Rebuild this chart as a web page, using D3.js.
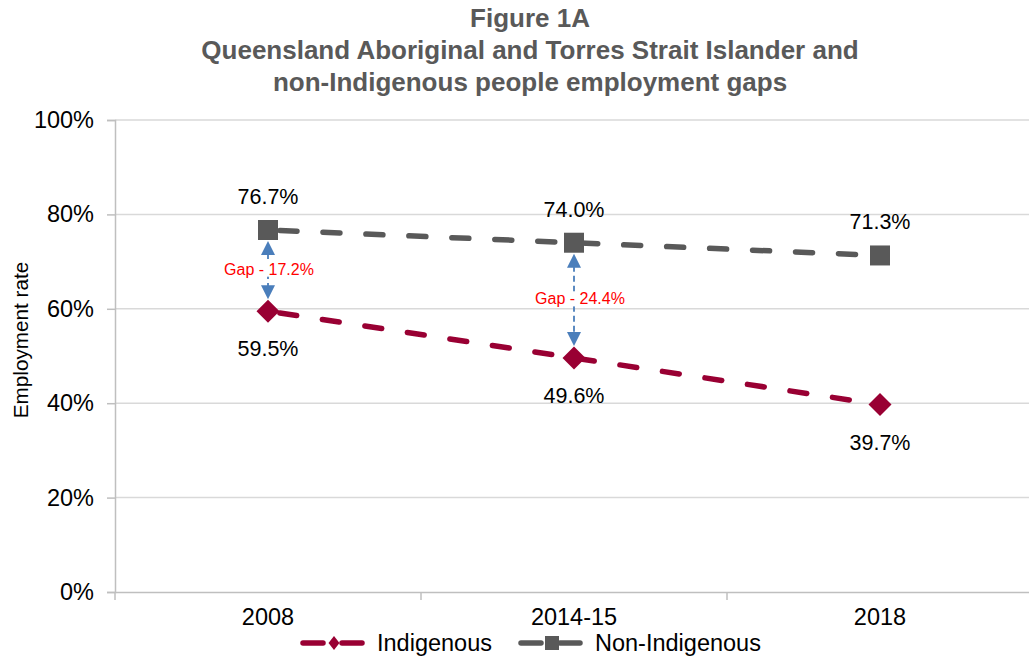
<!DOCTYPE html>
<html>
<head>
<meta charset="utf-8">
<script src="https://cdn.jsdelivr.net/npm/d3@7"></script>
<style>
  body { margin: 0; background: #fff; }
  text { font-family: "Liberation Sans", Arial, sans-serif; }
</style>
</head>
<body>
<div id="chart"></div>
<script>
var categories = ["2008", "2014-15", "2018"];
var indigenous = [0.595, 0.496, 0.397];
var nonIndigenous = [0.767, 0.740, 0.713];
var yTicks = [0, 0.2, 0.4, 0.6, 0.8, 1.0];
var gapCategories = ["2008", "2014-15"];
var gapLabels = ["Gap - 17.2%", "Gap - 24.4%"];
var titleLines = ["Figure 1A", "Queensland Aboriginal and Torres Strait Islander and", "non-Indigenous people employment gaps"];

const width = 1029;
const height = 658;
const plotLeft = 115, plotRight = 1033, plotTop = 120, plotBottom = 592;
const redCol = "#990033";
const greyCol = "#595959";
const blueCol = "#4a7ebb";

const xScale = d3.scaleBand()
    .domain(categories)
    .range([plotLeft, plotRight]);

const yScale = d3.scaleLinear()
    .domain([0, 1])
    .range([plotBottom, plotTop]);

const cx = (c) => xScale(c) + xScale.bandwidth() / 2;

let svg = d3.select('#chart')
    .append('svg')
    .attr('width', width)
    .attr('height', height);

// title
svg.append('g').selectAll('text')
    .data(titleLines)
    .enter()
    .append('text')
    .attr('x', 530)
    .attr('y', (d, i) => 27 + i * 32)
    .attr('text-anchor', 'middle')
    .style('font-size', '26px')
    .style('font-weight', 'bold')
    .style('fill', greyCol)
    .text(d => d);

// gridlines
svg.append('g').selectAll('line')
    .data(yTicks.slice(1))
    .enter()
    .append('line')
    .attr('x1', plotLeft).attr('x2', width)
    .attr('y1', d => yScale(d)).attr('y2', d => yScale(d))
    .attr('stroke', '#d9d9d9')
    .attr('stroke-width', 1.5);

// y axis
let yAxis = svg.append('g')
    .attr('transform', `translate(${plotLeft},0)`)
    .call(d3.axisLeft(yScale).tickValues(yTicks).tickFormat(d3.format('.0%')).tickSize(8).tickPadding(13));
yAxis.select('.domain').attr('stroke', '#bfbfbf').attr('stroke-width', 1.5);
yAxis.selectAll('.tick line').attr('stroke', '#bfbfbf').attr('stroke-width', 1.5);
yAxis.selectAll('.tick text')
    .style('font-family', '"Liberation Sans", Arial, sans-serif')
    .style('font-size', '23.5px').style('fill', '#000');

// x axis
let xAxis = svg.append('g')
    .attr('transform', `translate(0,${plotBottom})`)
    .call(d3.axisBottom(xScale).tickSize(0).tickPadding(16));
xAxis.select('.domain').attr('stroke', '#bfbfbf').attr('stroke-width', 1.5);
xAxis.selectAll('.tick text')
    .style('font-family', '"Liberation Sans", Arial, sans-serif')
    .style('font-size', '23.5px').style('fill', '#000');
// x tick marks at category boundaries
xAxis.append('g').selectAll('line')
    .data(categories)
    .enter()
    .append('line')
    .attr('x1', d => xScale(d)).attr('x2', d => xScale(d))
    .attr('y1', 0).attr('y2', 8)
    .attr('stroke', '#bfbfbf').attr('stroke-width', 1.5);

// y label
svg.append('text')
    .attr('transform', 'translate(28,340) rotate(-90)')
    .attr('text-anchor', 'middle')
    .style('font-size', '20.7px')
    .style('fill', '#000')
    .text('Employment rate');

// series lines
const series = [
    { name: 'Indigenous', values: indigenous, color: redCol, marker: 'diamond', labelDy: 45 },
    { name: 'Non-Indigenous', values: nonIndigenous, color: greyCol, marker: 'square', labelDy: -26 }
];

const line = d3.line()
    .x((d, i) => cx(categories[i]))
    .y(d => yScale(d));

series.forEach(function(s) {
    svg.append('path')
        .datum(s.values)
        .attr('fill', 'none')
        .attr('stroke', s.color)
        .attr('stroke-width', 5.5)
        .attr('stroke-linecap', 'round')
        .attr('stroke-dasharray', '17,26')
        .attr('stroke-dashoffset', -12)
        .attr('d', line);
});

// gap arrows
const gapG = svg.append('g');
gapCategories.forEach(function(c, k) {
    const i = categories.indexOf(c);
    const x = cx(c);
    const y1 = yScale(nonIndigenous[i]) + 11;
    const y2 = yScale(indigenous[i]) - 12;
    gapG.append('line')
        .attr('x1', x).attr('x2', x)
        .attr('y1', y1 + 12).attr('y2', y2 - 12)
        .attr('stroke', blueCol)
        .attr('stroke-width', 1.8)
        .attr('stroke-dasharray', '6,4');
    gapG.append('path')
        .attr('d', `M${x},${y1} L${x - 7},${y1 + 14} L${x + 7},${y1 + 14} Z`)
        .attr('fill', blueCol);
    gapG.append('path')
        .attr('d', `M${x},${y2} L${x - 7},${y2 - 14} L${x + 7},${y2 - 14} Z`)
        .attr('fill', blueCol);
    const ty = (y1 + y2) / 2 - 1;
    const tx = x + (k === 0 ? 1 : 6);
    const bg = gapG.append('rect').attr('fill', '#fff');
    const t = gapG.append('text')
        .attr('x', tx)
        .attr('y', ty)
        .attr('dy', '0.35em')
        .attr('text-anchor', 'middle')
        .style('font-size', '16px')
        .style('fill', '#ff0000')
        .text(gapLabels[k]);
    const bb = t.node().getBBox();
    bg.attr('x', bb.x - 2).attr('y', bb.y + 1)
        .attr('width', bb.width + 4).attr('height', bb.height - 2);
});

// markers and labels
series.forEach(function(s) {
    const g = svg.append('g');
    g.selectAll('path.m')
        .data(s.values)
        .enter()
        .append('path')
        .attr('transform', (d, i) => `translate(${cx(categories[i])},${yScale(d)})`)
        .attr('d', s.marker === 'diamond'
            ? 'M0,-11.5 L11.5,0 L0,11.5 L-11.5,0 Z'
            : 'M-10,-10 L10,-10 L10,10 L-10,10 Z')
        .attr('fill', s.color);
    g.selectAll('text')
        .data(s.values)
        .enter()
        .append('text')
        .attr('x', (d, i) => cx(categories[i]))
        .attr('y', d => yScale(d) + s.labelDy)
        .attr('text-anchor', 'middle')
        .style('font-size', '21.5px')
        .style('fill', '#000')
        .text(d => d3.format('.1%')(d));
});

// legend
const legend = svg.append('g').attr('transform', 'translate(0,643)');
const legendX = [300, 518];
series.forEach(function(s, i) {
    const lx = legendX[i];
    legend.append('line')
        .attr('x1', lx + 3).attr('x2', lx + 23)
        .attr('y1', 0).attr('y2', 0)
        .attr('stroke', s.color)
        .attr('stroke-width', 5.5)
        .attr('stroke-linecap', 'round');
    legend.append('line')
        .attr('x1', lx + 42).attr('x2', lx + 62)
        .attr('y1', 0).attr('y2', 0)
        .attr('stroke', s.color)
        .attr('stroke-width', 5.5)
        .attr('stroke-linecap', 'round');
    legend.append('path')
        .attr('transform', `translate(${lx + 34},0)`)
        .attr('d', s.marker === 'diamond'
            ? 'M0,-7 L5.5,0 L0,7 L-5.5,0 Z'
            : 'M-7,-7 L7,-7 L7,7 L-7,7 Z')
        .attr('fill', s.color);
    legend.append('text')
        .attr('x', lx + 77)
        .attr('y', 0)
        .attr('dy', '0.35em')
        .style('font-size', '23.5px')
        .style('fill', '#000')
        .text(s.name);
});
</script>
</body>
</html>
